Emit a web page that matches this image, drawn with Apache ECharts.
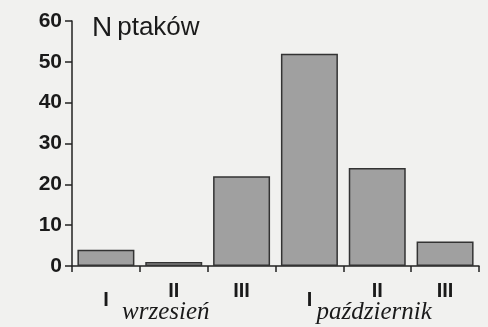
<!DOCTYPE html>
<html>
<head>
<meta charset="utf-8">
<script src="https://cdn.jsdelivr.net/npm/echarts@6/dist/echarts.min.js"></script>
<style>
  html, body { margin: 0; padding: 0; background: #f1f1ef; }
  #chart { width: 488px; height: 327px; }
</style>
</head>
<body>
<div id="chart"></div>
<script>
// Decades (I, II, III) of September and October
const decades = ['I', 'II', 'III', 'I', 'II', 'III'];
const months = ['wrzesień', 'październik'];
// Number of birds per decade
const birds = [4, 1, 22, 52, 24, 6];
const yTicks = [0, 10, 20, 30, 40, 50, 60];

const chart = echarts.init(document.getElementById('chart'));
chart.setOption({
  backgroundColor: '#f1f1ef',
  animation: false,
  title: {
    text: '{n|N} {p|ptaków}',
    left: 87,
    top: 9,
    textStyle: {
      rich: {
        n: { fontFamily: 'Liberation Sans', fontWeight: 'normal', fontSize: 28, color: '#1a1a1a' },
        p: { fontFamily: 'Liberation Sans', fontWeight: 'normal', fontSize: 26, color: '#1a1a1a' }
      }
    }
  },
  grid: { left: 72, right: 9, top: 21, bottom: 61 },
  xAxis: [
    {
      type: 'category',
      data: decades,
      axisLine: { lineStyle: { color: '#222', width: 1.5 } },
      axisTick: { show: true, length: 6, lineStyle: { color: '#222', width: 1.5 } },
      axisLabel: {
        margin: 15,
        formatter: (v) => (v === 'I' ? '{lo|' + v + '}' : '{hi|' + v + '}'),
        rich: {
          lo: { fontFamily: 'Liberation Sans', fontWeight: 'bold', fontSize: 20, color: '#1a1a1a', padding: [9, 0, 0, 0] },
          hi: { fontFamily: 'Liberation Sans', fontWeight: 'bold', fontSize: 20, color: '#1a1a1a' }
        }
      }
    },
    {
      type: 'category',
      data: months,
      position: 'bottom',
      offset: 30,
      axisLine: { show: false },
      axisTick: { show: false },
      axisLabel: {
        margin: 4,
        formatter: (v, i) => (i === 0 ? '{a|' + v + '}' : '{b|' + v + '}'),
        rich: {
          a: { fontFamily: 'Liberation Serif', fontStyle: 'italic', fontSize: 25, color: '#1a1a1a', padding: [0, 16, 0, 0] },
          b: { fontFamily: 'Liberation Serif', fontStyle: 'italic', fontSize: 25, color: '#1a1a1a', padding: [0, 6, 0, 0] }
        }
      }
    }
  ],
  yAxis: {
    type: 'value',
    min: yTicks[0],
    max: yTicks[yTicks.length - 1],
    interval: 10,
    splitLine: { show: false },
    axisLine: { show: true, lineStyle: { color: '#222', width: 1.5 } },
    axisTick: { show: true, length: 7, lineStyle: { color: '#222', width: 1.5 } },
    axisLabel: {
      margin: 10,
      fontFamily: 'Liberation Sans',
      fontWeight: 'bold',
      fontSize: 21,
      color: '#1a1a1a'
    }
  },
  series: [{
    type: 'bar',
    data: birds,
    xAxisIndex: 0,
    barCategoryGap: '16%',
    itemStyle: { color: '#a0a0a0', borderColor: '#333', borderWidth: 1.5 }
  }]
});
</script>
</body>
</html>
